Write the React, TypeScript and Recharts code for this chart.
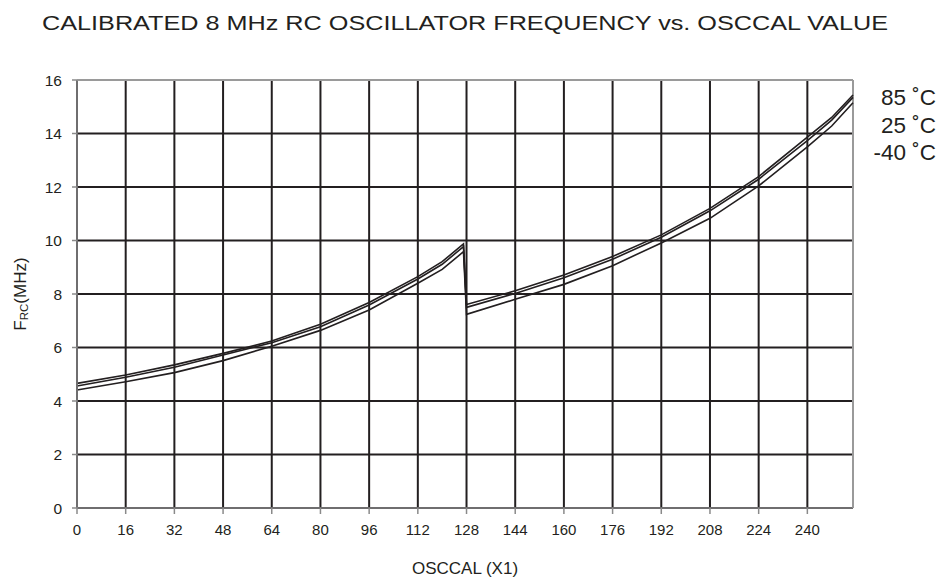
import { LineChart, Line, XAxis, YAxis, CartesianGrid, ReferenceLine } from "recharts"

const osccal = [0, 16, 32, 48, 64, 80, 96, 112, 120, 127, 128, 144, 160, 176, 192, 208, 224, 240, 248, 255]
const f85 = [4.66, 4.97, 5.35, 5.78, 6.24, 6.87, 7.68, 8.65, 9.21, 9.87, 7.61, 8.12, 8.71, 9.4, 10.21, 11.2, 12.39, 13.86, 14.6, 15.44]
const f25 = [4.56, 4.89, 5.26, 5.72, 6.18, 6.78, 7.59, 8.56, 9.11, 9.77, 7.5, 8.02, 8.61, 9.3, 10.12, 11.11, 12.29, 13.73, 14.5, 15.35]
const fm40 = [4.41, 4.72, 5.06, 5.51, 6.05, 6.64, 7.4, 8.4, 8.92, 9.58, 7.24, 7.8, 8.36, 9.06, 9.91, 10.83, 12.04, 13.5, 14.28, 15.15]

const xTicks = [0, 16, 32, 48, 64, 80, 96, 112, 128, 144, 160, 176, 192, 208, 224, 240]
const yTicks = [0, 2, 4, 6, 8, 10, 12, 14, 16]
const legendLabels = ["85 ˚C", "25 ˚C", "-40 ˚C"]

const data = osccal.map((x, i) => ({ x, f85: f85[i], f25: f25[i], fm40: fm40[i] }))

const ink = "#231f20"
const font = "'Liberation Sans', Arial, sans-serif"

export default function App() {
    return (
        <div style={{ position: "absolute", left: 0, top: 0, width: 943, height: 583, background: "#fff", fontFamily: font }}>
            <LineChart width={943} height={583} data={data} margin={{ top: 80, right: 90, bottom: 45, left: 47 }}>
                <CartesianGrid stroke={ink} strokeWidth={2} />
                <XAxis
                    dataKey="x"
                    type="number"
                    domain={[0, 255]}
                    ticks={xTicks}
                    interval={0}
                    height={30}
                    stroke="#8a8a8a"
                    strokeWidth={1.5}
                    tickSize={6}
                    tickMargin={10}
                    tick={{ fill: ink, fontSize: 15, fontFamily: font }}
                />
                <YAxis
                    type="number"
                    domain={[0, 16]}
                    ticks={yTicks}
                    interval={0}
                    width={30}
                    stroke="#8a8a8a"
                    strokeWidth={1.5}
                    tickSize={5}
                    tickMargin={10}
                    tick={{ fill: ink, fontSize: 15.5, fontFamily: font }}
                />
                <ReferenceLine y={16} stroke="#9a9a9a" strokeWidth={2} />
                <ReferenceLine x={255} stroke="#9a9a9a" strokeWidth={2} />
                <Line dataKey="f85" stroke={ink} strokeWidth={1.6} dot={false} isAnimationActive={false} />
                <Line dataKey="f25" stroke={ink} strokeWidth={1.6} dot={false} isAnimationActive={false} />
                <Line dataKey="fm40" stroke={ink} strokeWidth={1.6} dot={false} isAnimationActive={false} />
                <text x={42} y={30} fontSize={20.5} textLength={846} lengthAdjust="spacingAndGlyphs" fill={ink} fontFamily={font}>
                    CALIBRATED 8 MHz RC OSCILLATOR FREQUENCY vs. OSCCAL VALUE
                </text>
                <text x={465} y={574} textAnchor="middle" fontSize={17} fill={ink} fontFamily={font}>OSCCAL (X1)</text>
                <text transform="translate(26 294) rotate(-90)" textAnchor="middle" fontSize={17} fill={ink} fontFamily={font}>
                    F<tspan fontSize={11.5} dy={2}>RC</tspan><tspan dy={-2}>(MHz)</tspan>
                </text>
                {legendLabels.map((t, i) => (
                    <text key={t} x={936} y={105 + i * 27.5} textAnchor="end" fontSize={22.5} fill={ink} fontFamily={font}>{t}</text>
                ))}
            </LineChart>
        </div>
    )
}
